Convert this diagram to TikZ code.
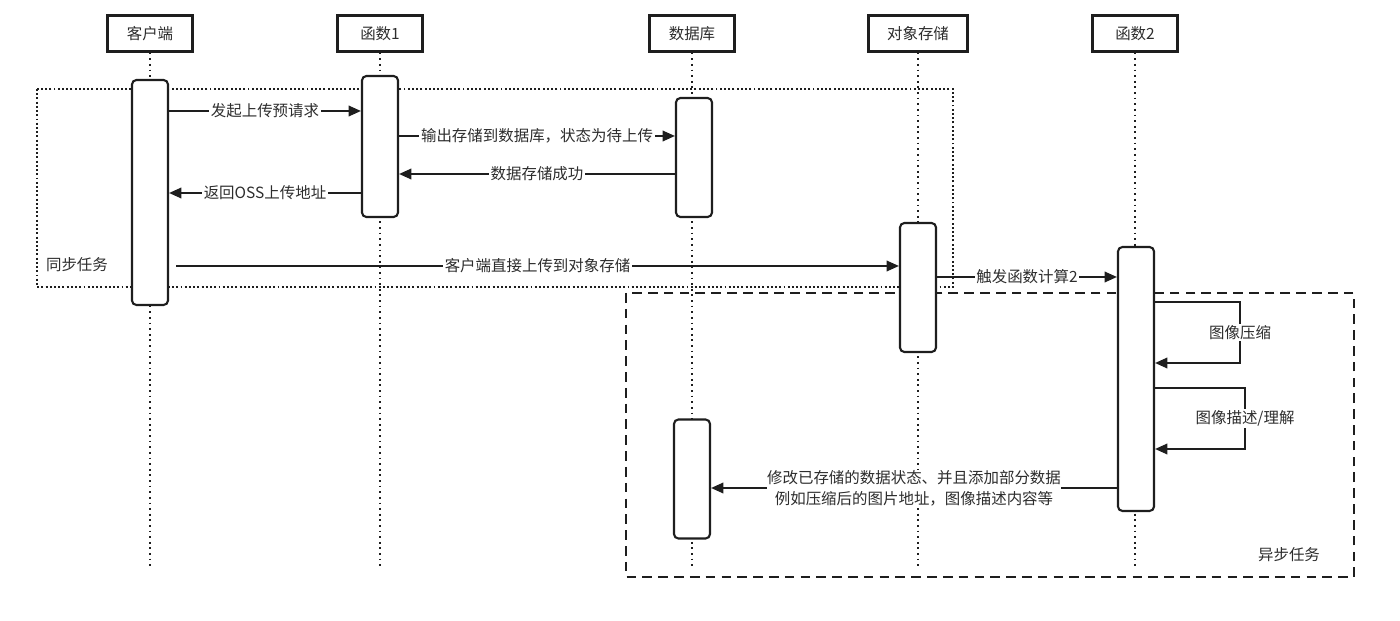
\documentclass[tikz,border=0pt]{standalone}
\usepackage{fontspec}
\setmainfont{Noto Sans CJK SC}
\usepackage{tikz}
\usetikzlibrary{arrows.meta,positioning,calc}
\definecolor{ink}{RGB}{30,30,30}
\definecolor{txt}{RGB}{45,45,45}

\begin{document}
\begin{tikzpicture}[
    x=0.02cm, y=-0.02cm,
    font=\fontsize{8.8}{12}\selectfont, text=txt,
    actor/.style={draw=ink, line width=1.4pt, fill=white, minimum width=1.7cm,
                  minimum height=0.72cm, inner sep=0pt},
    act/.style={draw=ink, line width=1.2pt, fill=white, rounded corners=2.5pt,
                minimum width=0.72cm, inner sep=0pt},
    life/.style={draw=ink, line width=0.9pt, dash pattern=on 1pt off 2.2pt},
    msg/.style={draw=ink, line width=1.05pt, -{Triangle[length=7pt,width=6pt]}},
    lbl/.style={fill=white, inner sep=1pt},
    syncbox/.style={draw=ink, line width=1.1pt, dash pattern=on 1.1pt off 1.3pt},
    asyncbox/.style={draw=ink, line width=1.1pt, dash pattern=on 5.5pt off 3.5pt}
]
\useasboundingbox (0,0) rectangle (1400,621);

% task frames
\draw[syncbox] (37,89) rectangle (953,287);
\draw[asyncbox] (626,293) rectangle (1354,577);
\node (syncL) at (77,265) {同步任务};
\node (asyncL) at (1289,555) {异步任务};

% participants
\node[actor] (cliH) at (150,33.5) {客户端};
\node[actor] (fn1H) at (380,33.5) {函数1};
\node[actor] (dbH) at (692,33.5) {数据库};
\node[actor, minimum width=1.98cm] (ossH) at (918,33.5) {对象存储};
\node[actor] (fn2H) at (1135,33.5) {函数2};

% lifelines
\foreach \p in {cliH,fn1H,dbH,ossH,fn2H}
  \draw[life] (\p.south) -- (\p.south |- 0,566);

% activations
\node[act, minimum height=4.5cm] (cli) at (150,192.5) {};
\node[act, minimum height=2.82cm] (fn1) at (380,146.5) {};
\node[act, minimum height=2.38cm] (db1) at (694,157.5) {};
\node[act, minimum height=2.38cm] (db2) at (692,479) {};
\node[act, minimum height=2.58cm] (oss) at (918,287.5) {};
\node[act, minimum height=5.28cm] (fn2) at (1136,379) {};

% synchronous part
\draw[msg] (cli.east |- 0,111) -- node[lbl] {发起上传预请求} (fn1.west |- 0,111);
\draw[msg] (fn1.east |- 0,136) -- node[lbl] {输出存储到数据库，状态为待上传} (db1.west |- 0,136);
\draw[msg] (db1.west |- 0,174) -- node[lbl] {数据存储成功} (fn1.east |- 0,174);
\draw[msg] (fn1.west |- 0,193) -- node[lbl] {返回OSS上传地址} (cli.east |- 0,193);
\draw[msg] ([xshift=4]cli.east |- 0,266) -- node[lbl] {客户端直接上传到对象存储} (oss.west |- 0,266);

% asynchronous part
\draw[msg] (oss.east |- 0,277) -- node[lbl] {触发函数计算2} (fn2.west |- 0,277);
\draw[msg] (fn2.east |- 0,302) -- ++(85,0) -- node[lbl] {图像压缩} ++(0,61) -- (fn2.east |- 0,363);
\draw[msg] (fn2.east |- 0,388) -- ++(90,0) -- node[lbl] {图像描述/理解} ++(0,61) -- (fn2.east |- 0,449);
\draw[msg] (fn2.west |- 0,488) -- node[lbl, align=center, inner sep=0pt] {修改已存储的数据状态、并且添加部分数据\\例如压缩后的图片地址，图像描述内容等} (db2.east |- 0,488);
\end{tikzpicture}
\end{document}
